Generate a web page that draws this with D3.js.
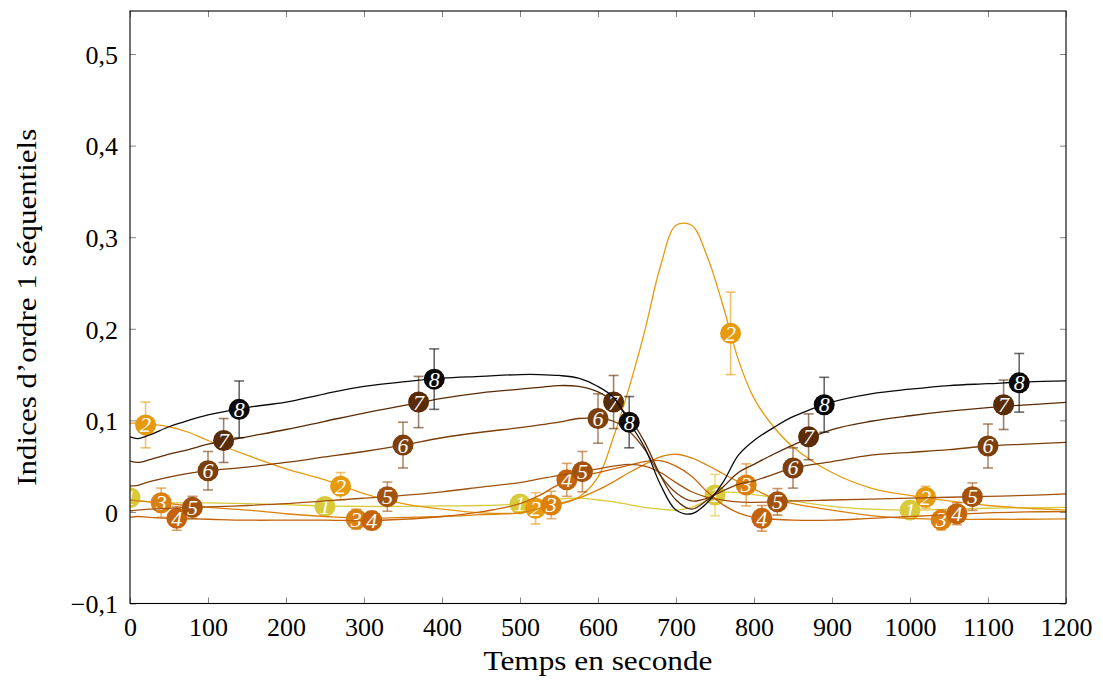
<!DOCTYPE html>
<html><head><meta charset="utf-8">
<script src="https://cdn.jsdelivr.net/npm/d3@7"></script>
<style>
html,body{margin:0;padding:0;background:#fff;}
svg text{font-family:"Liberation Serif","DejaVu Serif",serif;}
</style></head>
<body>
<svg id="chart" width="1103" height="684"></svg>
<script>
// ---------- data ----------
const T = [0,10,25,50,75,100,150,200,250,300,350,400,450,500,525,550,575,600,620,640,660,680,700,720,740,760,780,800,825,850,900,950,1000,1050,1100,1150,1200];
const S1 = [0.0156,0.013,0.011,0.010,0.010,0.0098,0.009,0.008,0.0065,0.006,0.006,0.0065,0.007,0.0087,0.011,0.014,0.015,0.013,0.011,0.008,0.005,0.003,0.002,0.005,0.013,0.021,0.021,0.019,0.016,0.012,0.006,0.003,0.002,0.003,0.004,0.0045,0.005];
const S2 = [0.097,0.097,0.096,0.093,0.087,0.078,0.062,0.047,0.035,0.020,0.009,0.003,-0.001,-0.001,0.004,0.008,0.016,0.038,0.082,0.136,0.198,0.268,0.313,0.313,0.279,0.226,0.166,0.124,0.093,0.071,0.043,0.026,0.018,0.012,0.007,0.004,0.002];
const S3 = [0.013,0.012,0.011,0.009,0.007,0.005,0.002,-0.002,-0.005,-0.007,-0.006,-0.005,-0.003,-0.001,0.004,0.009,0.015,0.024,0.033,0.043,0.052,0.060,0.063,0.059,0.051,0.042,0.033,0.025,0.015,0.009,0.002,-0.004,-0.007,-0.008,-0.008,-0.008,-0.0076];
const S4 = [-0.006,-0.005,-0.006,-0.007,-0.0075,-0.008,-0.009,-0.009,-0.009,-0.0095,-0.008,-0.005,0.000,0.009,0.018,0.030,0.038,0.043,0.047,0.051,0.055,0.056,0.050,0.039,0.022,0.008,-0.001,-0.006,-0.008,-0.009,-0.009,-0.007,-0.005,-0.003,-0.001,0.000,0.0003];
const S5 = [0.001,0.002,0.003,0.004,0.005,0.0055,0.007,0.009,0.012,0.015,0.018,0.022,0.027,0.032,0.036,0.040,0.043,0.047,0.050,0.052,0.050,0.043,0.032,0.022,0.016,0.013,0.011,0.0105,0.011,0.012,0.013,0.014,0.015,0.016,0.017,0.018,0.0196];
const S6 = [0.0284,0.029,0.033,0.038,0.042,0.045,0.049,0.054,0.060,0.066,0.073,0.081,0.087,0.092,0.095,0.098,0.102,0.102,0.099,0.088,0.068,0.040,0.021,0.012,0.015,0.023,0.030,0.034,0.041,0.048,0.055,0.062,0.065,0.068,0.072,0.074,0.076];
const S7 = [0.0556,0.054,0.057,0.063,0.068,0.074,0.082,0.090,0.099,0.108,0.116,0.124,0.130,0.134,0.136,0.138,0.137,0.131,0.120,0.103,0.076,0.040,0.013,0.003,0.013,0.027,0.043,0.052,0.063,0.073,0.090,0.099,0.105,0.110,0.114,0.117,0.1196];
const S8 = [0.082,0.080,0.084,0.093,0.100,0.106,0.114,0.120,0.129,0.137,0.142,0.146,0.148,0.150,0.150,0.149,0.146,0.137,0.125,0.098,0.070,0.030,0.002,-0.002,0.010,0.032,0.062,0.078,0.092,0.104,0.120,0.129,0.134,0.138,0.140,0.142,0.143];
const series = [S1,S2,S3,S4,S5,S6,S7,S8];
const labels = ["1","2","3","4","5","6","7","8"];
const colors = ["#d8ca3a","#e69a0e","#d9800f","#c4640a","#a2520d","#7c3e0a","#5a2b07","#0a0a0a"];

// marker times, values and error half-widths (per series)
const markT = [
  [0,250,500,750,1000],[20,270,520,770,1020],[40,290,540,790,1040],[60,310,560,810,1060],
  [80,330,580,830,1080],[100,350,600,850,1100],[120,370,620,870,1120],[140,390,640,890,1140]];
const markV = [
  [0.0156,0.006,0.0087,0.0185,0.002],[0.095,0.028,0.004,0.195,0.016],[0.010,-0.008,0.0076,0.0295,-0.0087],
  [-0.007,-0.0095,0.035,-0.007,-0.002],[0.005,0.0167,0.044,0.011,0.0167],[0.045,0.073,0.102,0.048,0.072],
  [0.078,0.120,0.120,0.082,0.117],[0.112,0.145,0.098,0.117,0.141]];
const markE = [
  [0.005,0.005,0.009,0.0225,0.006],[0.025,0.015,0.017,0.045,0.012],[0.016,0.011,0.015,0.023,0.011],
  [0.013,0.010,0.018,0.014,0.012],[0.012,0.016,0.022,0.0145,0.015],[0.021,0.025,0.027,0.022,0.024],
  [0.024,0.028,0.029,0.025,0.027],[0.031,0.033,0.028,0.030,0.032]];

const xTicks = [0,100,200,300,400,500,600,700,800,900,1000,1100,1200];
const yTicks = [-0.1,0,0.1,0.2,0.3,0.4,0.5];
const xTitle = "Temps en seconde";
const yTitle = "Indices d’ordre 1 séquentiels";

// ---------- layout ----------
const L = 130, R = 1066, Tp = 11, B = 603.5;
const svg = d3.select("#chart");
const x = d3.scaleLinear().domain([0,1200]).range([L,R]);
const y = d3.scaleLinear().domain([-0.1,0.547]).range([B,Tp]);

svg.append("defs").append("clipPath").attr("id","clip")
  .append("rect").attr("x",L).attr("y",Tp).attr("width",R-L).attr("height",B-Tp);

// axes with inward ticks
const fmt = d => d === 0 ? "0" : (d < 0 ? "\u2212" : "") + Math.abs(d).toFixed(1).replace(".", ",");
const tickLen = 6;
const axB = svg.append("g").attr("transform",`translate(0,${B})`)
  .call(d3.axisBottom(x).tickValues(xTicks).tickSize(-tickLen).tickPadding(10).tickFormat(d3.format("d")));
const axT = svg.append("g").attr("transform",`translate(0,${Tp})`)
  .call(d3.axisTop(x).tickValues(xTicks).tickSize(-tickLen).tickFormat(""));
const axL = svg.append("g").attr("transform",`translate(${L},0)`)
  .call(d3.axisLeft(y).tickValues(yTicks).tickSize(-tickLen).tickPadding(12).tickFormat(fmt));
const axR = svg.append("g").attr("transform",`translate(${R},0)`)
  .call(d3.axisRight(y).tickValues(yTicks).tickSize(-tickLen).tickFormat(""));
[axB,axT,axL,axR].forEach(a=>{
  a.select(".domain").remove();
  a.selectAll(".tick line").attr("stroke","#777").attr("stroke-width",0.9);
  a.selectAll(".tick text").attr("fill","#000").style("font-size","26px");
});
axB.selectAll(".tick text").attr("dy","0.85em");
axL.selectAll(".tick text").attr("dy","0.36em");

// data
const line = d3.line().x((d,i)=>x(T[i])).y(d=>y(d)).curve(d3.curveCatmullRom.alpha(0.5));
const plot = svg.append("g").attr("clip-path","url(#clip)");

series.forEach((s,k)=>{
  const g = plot.append("g");
  g.append("path").datum(s).attr("d",line).attr("fill","none")
    .attr("stroke",colors[k]).attr("stroke-width",1.3);
  const pts = markT[k].map((t,i)=>({t, v:markV[k][i], e:markE[k][i]}));
  const eb = g.selectAll(".eb").data(pts).enter().append("g")
    .attr("stroke",colors[k]).attr("stroke-opacity",0.6).attr("stroke-width",1.6);
  eb.append("line").attr("x1",d=>x(d.t)).attr("x2",d=>x(d.t))
    .attr("y1",d=>y(d.v-d.e)).attr("y2",d=>y(d.v+d.e));
  eb.append("line").attr("x1",d=>x(d.t)-5).attr("x2",d=>x(d.t)+5)
    .attr("y1",d=>y(d.v-d.e)).attr("y2",d=>y(d.v-d.e));
  eb.append("line").attr("x1",d=>x(d.t)-5).attr("x2",d=>x(d.t)+5)
    .attr("y1",d=>y(d.v+d.e)).attr("y2",d=>y(d.v+d.e));
  const mk = g.selectAll(".mk").data(pts).enter().append("g")
    .attr("transform",d=>`translate(${x(d.t)},${y(d.v)})`);
  mk.append("circle").attr("r",10.5).attr("fill",colors[k]);
  mk.append("text").text(labels[k]).attr("text-anchor","middle").attr("dy","0.34em")
    .attr("fill","#fff").style("font-style","italic").style("font-size","22px");
});

// frame
svg.append("rect").attr("x",L).attr("y",Tp).attr("width",R-L).attr("height",B-Tp)
  .attr("fill","none").attr("stroke","#000").attr("stroke-width",1.1);

// titles
svg.append("text").attr("x",(L+R)/2).attr("y",670).attr("text-anchor","middle")
  .attr("textLength",229).attr("lengthAdjust","spacingAndGlyphs")
  .style("font-size","28px").text(xTitle);
svg.append("text").attr("transform",`translate(36,${(Tp+B)/2}) rotate(-90)`)
  .attr("text-anchor","middle").attr("textLength",357).attr("lengthAdjust","spacingAndGlyphs")
  .style("font-size","28px").text(yTitle);
</script>
</body></html>
